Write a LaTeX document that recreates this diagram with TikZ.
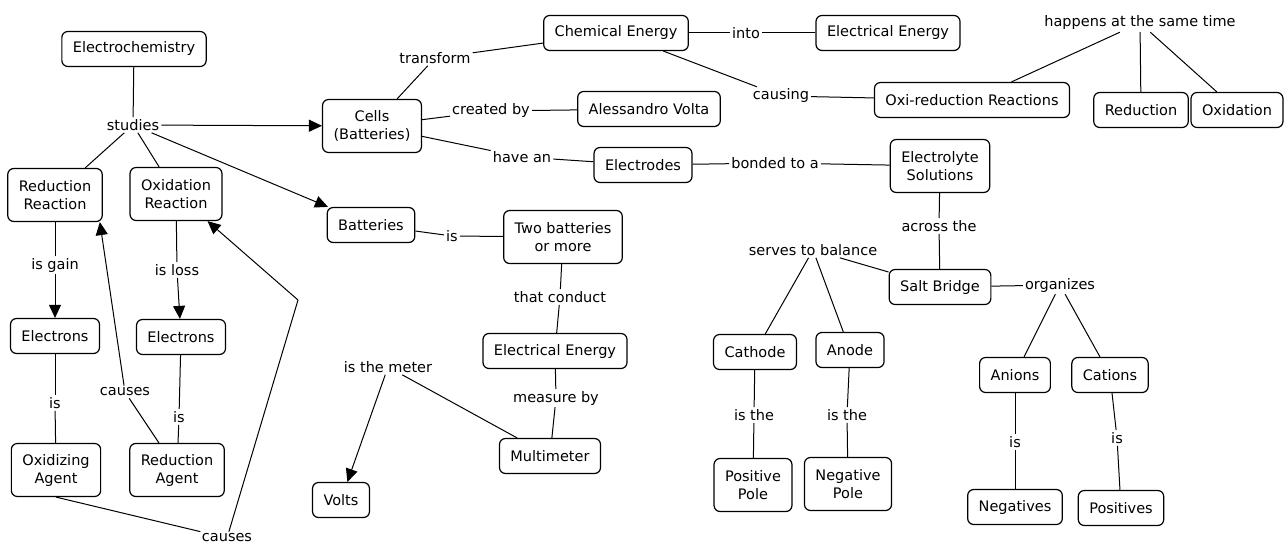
\documentclass[tikz,border=0pt]{standalone}
\usepackage{fontspec}
\setmainfont{DejaVu Sans}
\usetikzlibrary{arrows.meta}

\begin{document}
\begin{tikzpicture}[x=1pt, y=-1pt,
  concept/.style={draw, line width=1.2pt, rounded corners=6pt, inner xsep=11pt, inner ysep=5pt,
    minimum height=35pt, align=center, font=\fontsize{14.5}{18}\selectfont},
  tall/.style={minimum height=53pt},
  linkword/.style={inner sep=2pt, font=\fontsize{14.5}{18}\selectfont},
  link/.style={line width=1pt},
  arrowlink/.style={link, -{Triangle[length=13pt, width=12pt]}}]
\useasboundingbox (0,0) rectangle (1284,548);
% left part
\node[concept] (ec) at (134,49) {Electrochemistry};
\node[linkword] (studies) at (133,125) {studies};
\node[concept, tall] (redr) at (55,195) {Reduction\\Reaction};
\node[concept, tall] (oxr) at (176,194) {Oxidation\\Reaction};
\node[linkword] (gain) at (55,265) {is gain};
\node[linkword] (loss) at (177,270) {is loss};
\node[concept] (elecl) at (55,336) {Electrons};
\node[concept] (elecr) at (181,337) {Electrons};
\node[linkword] (isl) at (55,403) {is};
\node[linkword] (isr) at (179,417) {is};
\node[linkword] (causesa) at (125,392) {causes};
\node[concept, tall] (oxag) at (56,470) {Oxidizing\\Agent};
\node[concept, tall] (redag) at (177,470) {Reduction\\Agent};
\node[linkword] (causesb) at (227,538) {causes};
\coordinate (bend) at (298,300);
% middle part
\node[concept, tall] (cells) at (372,126) {Cells\\(Batteries)};
\node[concept] (batt) at (371,225) {Batteries};
\node[linkword] (transform) at (435,58) {transform};
\node[concept] (chem) at (616,33) {Chemical Energy};
\node[linkword] (created) at (491,111) {created by};
\node[concept] (volta) at (649,109) {Alessandro Volta};
\node[linkword] (havean) at (522,157) {have an};
\node[concept] (electrodes) at (643,165) {Electrodes};
\node[linkword] (isb) at (452,236) {is};
\node[concept, tall] (two) at (563,237) {Two batteries\\or more};
\node[linkword] (conduct) at (560,297) {that conduct};
\node[concept] (elmid) at (555,351) {Electrical Energy};
\node[linkword] (measure) at (556,398) {measure by};
\node[concept] (multi) at (550,456) {Multimeter};
\node[linkword] (meter) at (388,367) {is the meter};
\node[concept] (volts) at (341,500) {Volts};
% right part
\node[linkword] (into) at (746,33) {into};
\node[concept] (eltop) at (888,33) {Electrical Energy};
\node[linkword] (causing) at (781,96) {causing};
\node[concept] (oxired) at (972,100) {Oxi-reduction Reactions};
\node[linkword] (happens) at (1140,23) {happens at the same time};
\node[concept] (red) at (1141,110) {Reduction};
\node[concept] (oxi) at (1237,110) {Oxidation};
\node[linkword] (bonded) at (775,163) {bonded to a};
\node[concept, tall] (electrolyte) at (940,166) {Electrolyte\\Solutions};
\node[linkword] (across) at (939,226) {across the};
\node[concept] (salt) at (940,287) {Salt Bridge};
\node[linkword] (serves) at (813,250) {serves to balance};
\node[linkword] (organizes) at (1060,285) {organizes};
\node[concept] (cathode) at (755,352) {Cathode};
\node[concept] (anode) at (850,350) {Anode};
\node[linkword] (isthec) at (754,415) {is the};
\node[linkword] (isthea) at (847,415) {is the};
\node[concept, tall] (pos) at (753,485) {Positive\\Pole};
\node[concept, tall] (neg) at (848,484) {Negative\\Pole};
\node[concept] (anions) at (1015,375) {Anions};
\node[concept] (cations) at (1110,375) {Cations};
\node[linkword] (isan) at (1015,442) {is};
\node[linkword] (isca) at (1117,438) {is};
\node[concept] (negs) at (1015,507) {Negatives};
\node[concept] (poss) at (1121,508) {Positives};
% links
\draw[link] (ec) -- (studies);
\draw[arrowlink] (studies) -- (cells);
\draw[arrowlink] (studies) -- (batt);
\draw[link] (studies) -- (redr);
\draw[link] (studies) -- (oxr);
\draw[link] (redr) -- (gain);
\draw[arrowlink] (gain) -- (elecl);
\draw[link] (oxr) -- (loss);
\draw[arrowlink] (loss) -- (elecr);
\draw[link] (elecl) -- (isl);
\draw[link] (isl) -- (oxag);
\draw[link] (elecr) -- (isr);
\draw[link] (isr) -- (redag);
\draw[link] (redag) -- (causesa);
\draw[arrowlink] (causesa) -- ([xshift=-3pt]redr.south east);
\draw[link] (oxag.south) -- (causesb);
\draw[link] (causesb) -- (bend);
\draw[arrowlink] (bend) -- ([xshift=-15pt]oxr.south east);
\draw[link] (cells) -- (transform);
\draw[link] (transform) -- (chem);
\draw[link] (cells) -- (created);
\draw[link] (created) -- (volta);
\draw[link] (cells) -- (havean);
\draw[link] (havean) -- (electrodes);
\draw[link] (batt) -- (isb);
\draw[link] (isb) -- (two);
\draw[link] (two) -- (conduct);
\draw[link] (conduct) -- (elmid);
\draw[link] (elmid) -- (measure);
\draw[link] (measure) -- (multi);
\draw[link] (multi) -- (meter);
\draw[arrowlink] (meter) -- (volts);
\draw[link] (chem) -- (into);
\draw[link] (into) -- (eltop);
\draw[link] (chem) -- (causing);
\draw[link] (causing) -- (oxired);
\draw[link] (oxired) -- (happens);
\draw[link] (happens) -- (red);
\draw[link] (happens) -- (oxi);
\draw[link] (electrodes) -- (bonded);
\draw[link] (bonded) -- (electrolyte);
\draw[link] (electrolyte) -- (across);
\draw[link] (across) -- (salt);
\draw[link] (salt) -- (serves);
\draw[link] (serves) -- (cathode);
\draw[link] (serves) -- (anode);
\draw[link] (cathode) -- (isthec);
\draw[link] (isthec) -- (pos);
\draw[link] (anode) -- (isthea);
\draw[link] (isthea) -- (neg);
\draw[link] (salt) -- (organizes);
\draw[link] (organizes) -- (anions);
\draw[link] (organizes) -- (cations);
\draw[link] (anions) -- (isan);
\draw[link] (isan) -- (negs);
\draw[link] (cations) -- (isca);
\draw[link] (isca) -- (poss);
\end{tikzpicture}
\end{document}
